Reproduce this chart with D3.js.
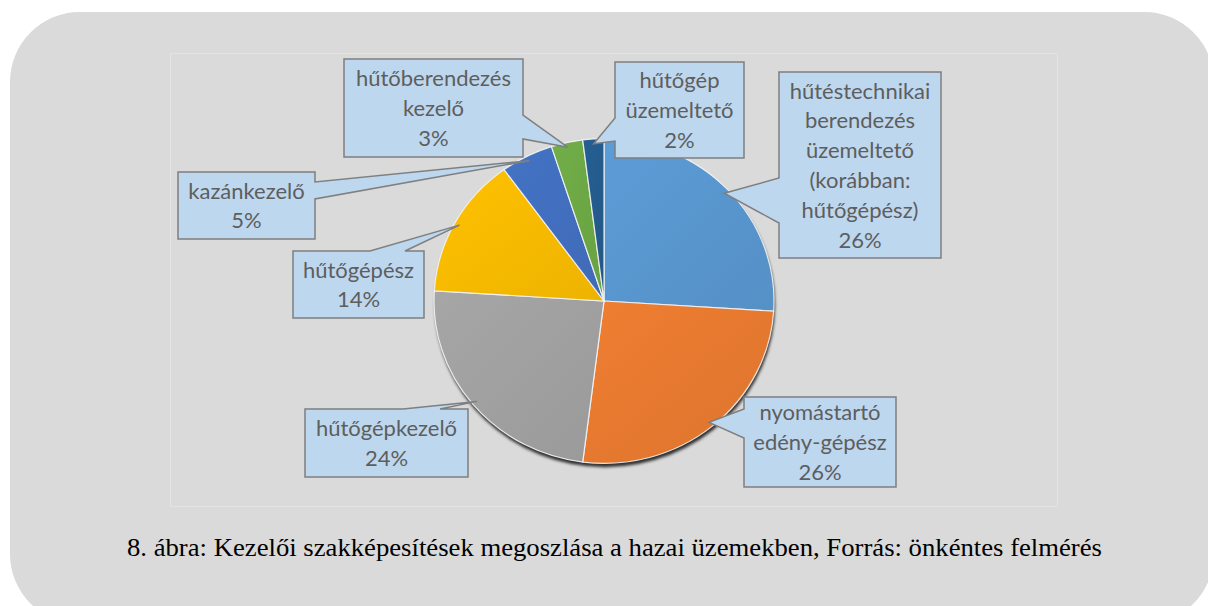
<!DOCTYPE html>
<html>
<head>
<meta charset="utf-8">
<script src="https://cdn.jsdelivr.net/npm/d3@7"></script>
<style>
    body { margin: 0; background: #ffffff; }
    svg { display: block; }
    .caption { font-family: "Liberation Serif", "Times New Roman", Tinos, "Nimbus Roman", "Nimbus Roman No9 L", FreeSerif, Times, serif; }
</style>
</head>
<body>
<div id="chart"></div>
<script>
// slice names (line breaks as they appear in the callouts) and shares in %
var categories = [
    "hűtéstechnikai\nberendezés\nüzemeltető\n(korábban:\nhűtőgépész)",
    "nyomástartó\nedény-gépész",
    "hűtőgépkezelő",
    "hűtőgépész",
    "kazánkezelő",
    "hűtőberendezés\nkezelő",
    "hűtőgép\nüzemeltető"
];
var shares = [26, 26, 24, 14, 5, 3, 2];
var shareLabels = ["26%", "26%", "24%", "14%", "5%", "3%", "2%"];
var sliceColors = ["#5b9bd5", "#ed7d31", "#a5a5a5", "#ffc000", "#4472c4", "#70ad47", "#255e91"];
var caption = "8. ábra: Kezelői szakképesítések megoszlása a hazai üzemekben, Forrás: önkéntes felmérés";

var width = 1208, height = 606;

// pie geometry (slightly flattened, like the original)
var pieBox = { cx: 604, cy: 301, r: 170, squash: 0.955 };

// callout boxes: rect + where the pointer leaves the box
var callouts = [
    { x: 779, y: 72, w: 162, h: 186, side: "left", a: 178, b: 223 },
    { x: 744, y: 397, w: 152, h: 90, side: "left", a: 409, b: 438 },
    { x: 305, y: 409, w: 163, h: 68, side: "top", a: 403, b: 440 },
    { x: 293, y: 251, w: 131, h: 67, side: "top", a: 370, b: 405 },
    { x: 178, y: 172, w: 137, h: 67, side: "right", a: 182, b: 199 },
    { x: 344, y: 59, w: 179, h: 98, side: "right", a: 115, b: 139 },
    { x: 615, y: 62, w: 129, h: 96, side: "left", a: 118, b: 141 }
];

var svg = d3.select("#chart").append("svg")
    .attr("width", width)
    .attr("height", height);

var defs = svg.append("defs");

defs.append("filter")
    .attr("id", "pieShadow")
    .attr("x", "-10%").attr("y", "-10%")
    .attr("width", "120%").attr("height", "120%")
    .append("feGaussianBlur")
    .attr("stdDeviation", 1.4);

// page background
svg.append("rect")
    .attr("x", 10).attr("y", 12)
    .attr("width", 1204).attr("height", 612)
    .attr("rx", 70).attr("ry", 70)
    .attr("fill", "#dadada");

// chart area outline
svg.append("rect")
    .attr("x", 170.5).attr("y", 53.5)
    .attr("width", 887).attr("height", 453)
    .attr("fill", "none")
    .attr("stroke", "#e3e3e3")
    .attr("stroke-width", 1);

// pie
var pie = d3.pie().sort(null).value(d => d);
var arcs = pie(shares);

var arc = d3.arc().innerRadius(0).outerRadius(pieBox.r);
var rimArc = d3.arc().innerRadius(pieBox.r * 0.97).outerRadius(pieBox.r * 0.97);

var pieGroup = svg.append("g")
    .attr("transform", `translate(${pieBox.cx}, ${pieBox.cy}) scale(1, ${pieBox.squash})`);

// drop shadow under the pie
pieGroup.append("path")
    .attr("d", arc({ startAngle: 0, endAngle: 2 * Math.PI }))
    .attr("transform", "translate(1, 4)")
    .attr("fill", "#2e2e2e")
    .attr("filter", "url(#pieShadow)");

// soft gradient per slice
sliceColors.forEach(function (c, i) {
    var g = defs.append("linearGradient")
        .attr("id", "grad" + i)
        .attr("x1", "0").attr("y1", "0")
        .attr("x2", "1").attr("y2", "1");
    g.append("stop").attr("offset", "0%").attr("stop-color", d3.color(c).brighter(0.02));
    g.append("stop").attr("offset", "100%").attr("stop-color", d3.color(c).darker(0.2));
});

pieGroup.selectAll("path.slice")
    .data(arcs)
    .enter()
    .append("path")
    .attr("class", "slice")
    .attr("d", arc)
    .attr("fill", (d, i) => "url(#grad" + i + ")")
    .attr("stroke", "#f4f4f4")
    .attr("stroke-width", 1.2)
    .attr("stroke-opacity", 0.9);

// pointer tip for each slice, on the rim at the slice middle
function tipPoint(d) {
    var c = rimArc.centroid(d);
    return [pieBox.cx + c[0], pieBox.cy + c[1] * pieBox.squash];
}

function calloutPath(b, tip) {
    var x0 = b.x, y0 = b.y, x1 = b.x + b.w, y1 = b.y + b.h;
    var p = d3.path();
    p.moveTo(x0, y0);
    if (b.side === "top") {
        p.lineTo(b.a, y0);
        p.lineTo(tip[0], tip[1]);
        p.lineTo(b.b, y0);
    }
    p.lineTo(x1, y0);
    if (b.side === "right") {
        p.lineTo(x1, b.a);
        p.lineTo(tip[0], tip[1]);
        p.lineTo(x1, b.b);
    }
    p.lineTo(x1, y1);
    p.lineTo(x0, y1);
    if (b.side === "left") {
        p.lineTo(x0, b.b);
        p.lineTo(tip[0], tip[1]);
        p.lineTo(x0, b.a);
    }
    p.closePath();
    return p.toString();
}

var lineHeight = 29.8;

var labelGroup = svg.append("g");

arcs.forEach(function (d, i) {
    var b = callouts[i];
    var g = labelGroup.append("g");

    g.append("path")
        .attr("d", calloutPath(b, tipPoint(d)))
        .attr("fill", "#bdd7ee")
        .attr("stroke", "#7f7f7f")
        .attr("stroke-width", 1.5)
        .attr("stroke-linejoin", "miter");

    var lines = categories[i].split("\n").concat([shareLabels[i]]);
    var midY = b.y + b.h / 2 + 8;
    var firstY = midY - (lines.length - 1) * lineHeight / 2;

    var text = g.append("text")
        .attr("text-anchor", "middle")
        .attr("font-family", "Lato, 'Open Sans', sans-serif")
        .attr("font-size", 22)
        .attr("fill", "#5e5e5e");

    lines.forEach(function (ln, j) {
        text.append("tspan")
            .attr("x", b.x + b.w / 2)
            .attr("y", firstY + j * lineHeight)
            .text(ln);
    });
});

// figure caption
svg.append("text")
    .attr("class", "caption")
    .attr("x", 614.5)
    .attr("y", 556)
    .attr("text-anchor", "middle")
    .attr("font-size", 25)
    .attr("fill", "#000000")
    .attr("textLength", 975)
    .attr("lengthAdjust", "spacingAndGlyphs")
    .text(caption);
</script>
</body>
</html>
